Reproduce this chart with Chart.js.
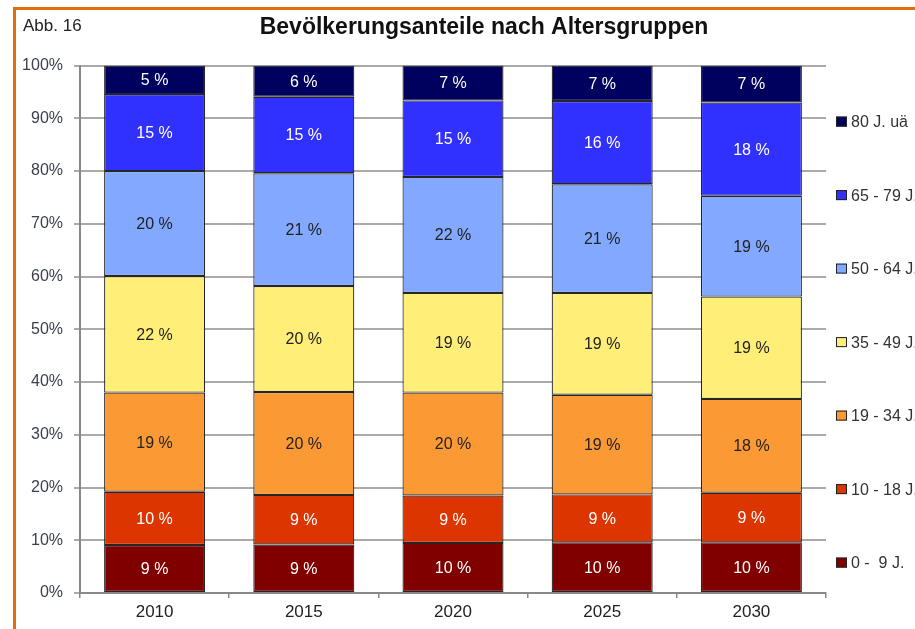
<!DOCTYPE html>
<html>
<head>
<meta charset="utf-8">
<script src="https://cdn.jsdelivr.net/npm/chart.js@4.4.0/dist/chart.umd.min.js"></script>
<style>
  html, body { margin: 0; padding: 0; background: #fff; overflow: hidden; width: 915px; height: 629px; }
  #frame { position: absolute; left: 13px; top: 7px; width: 980px; height: 660px;
           border-left: 3px solid #e46c0a; border-top: 3px solid #e46c0a; }
  #abb { position: absolute; left: 23px; top: 17px; font: 17px/17px "Liberation Sans", Arial, sans-serif; color: #222; }
  #wrap { position: absolute; left: 16px; top: 10px; width: 936px; height: 619px; }
</style>
</head>
<body>
<div id="frame"></div>
<div id="wrap"><canvas id="chart"></canvas></div>
<div id="abb">Abb. 16</div>
<script>
const years = ['2010', '2015', '2020', '2025', '2030'];
const groups = ['0 -  9 J.', '10 - 18 J.', '19 - 34 J.', '35 - 49 J.', '50 - 64 J.', '65 - 79 J.', '80 J. uä'];

// shares in percent, bottom to top
const age0to9   = [9.1, 9.2, 9.5, 9.6, 9.6];
const age10to18 = [10.1, 9.4, 9.0, 9.1, 9.4];
const age19to34 = [18.8, 19.5, 19.5, 18.9, 17.8];
const age35to49 = [22.1, 20.1, 18.9, 19.3, 19.4];
const age50to64 = [19.9, 21.4, 22.0, 20.6, 19.1];
const age65to79 = [14.6, 14.5, 14.5, 15.8, 17.7];
const age80plus = [5.4, 5.9, 6.6, 6.7, 7.0];

const yTicks = [0, 10, 20, 30, 40, 50, 60, 70, 80, 90, 100];

const series = [age0to9, age10to18, age19to34, age35to49, age50to64, age65to79, age80plus];
const fills = ['#800000', '#dd3500', '#fb9935', '#ffee77', '#82a8ff', '#3030ff', '#00005e'];
const textColors = ['#fff', '#fff', '#222', '#222', '#222', '#fff', '#fff'];

const FONT = '"Liberation Sans", Arial, sans-serif';

const datasets = series.map((d, i) => ({
    label: groups[i],
    data: d,
    backgroundColor: fills[i],
    borderColor: '#262626',
    borderWidth: 1.2,
    borderSkipped: false,
    categoryPercentage: 1,
    barPercentage: 0.677
}));

// value text in the middle of each segment
const segmentLabels = {
    id: 'segmentLabels',
    afterDatasetsDraw(chart) {
        const ctx = chart.ctx;
        ctx.save();
        ctx.font = '16px ' + FONT;
        ctx.textAlign = 'center';
        ctx.textBaseline = 'middle';
        chart.data.datasets.forEach((ds, i) => {
            const meta = chart.getDatasetMeta(i);
            ctx.fillStyle = textColors[i];
            meta.data.forEach((bar, j) => {
                const y = (bar.y + bar.base) / 2;
                ctx.fillText(Math.round(ds.data[j]) + ' %', bar.x, y + 1);
            });
        });
        ctx.restore();
    }
};

// legend on the right, top group first
const sideLegend = {
    id: 'sideLegend',
    afterDraw(chart) {
        const ctx = chart.ctx;
        const area = chart.chartArea;
        const n = chart.data.datasets.length;
        ctx.save();
        ctx.font = '16px ' + FONT;
        ctx.textBaseline = 'middle';
        for (let k = 0; k < n; k++) {
            const i = n - 1 - k;
            const y = area.top + 56 + k * 73.5;
            const x = area.right + 10;
            ctx.fillStyle = fills[i];
            ctx.fillRect(x, y - 5, 11, 10);
            ctx.strokeStyle = '#222';
            ctx.lineWidth = 1;
            ctx.strokeRect(x + 0.5, y - 4.5, 10, 9);
            ctx.fillStyle = '#333';
            ctx.fillText(chart.data.datasets[i].label, x + 15, y + 1);
        }
        ctx.restore();
    }
};

new Chart(document.getElementById('chart'), {
    type: 'bar',
    data: { labels: years, datasets: datasets },
    plugins: [segmentLabels, sideLegend],
    options: {
        responsive: true,
        maintainAspectRatio: false,
        animation: false,
        layout: { padding: 0 },
        plugins: {
            legend: { display: false },
            tooltip: { enabled: false },
            title: {
                display: true,
                text: 'Bevölkerungsanteile nach Altersgruppen',
                color: '#111',
                font: { family: FONT, size: 23, weight: 'bold' },
                padding: { top: 4, bottom: 24 }
            }
        },
        scales: {
            x: {
                stacked: true,
                grid: { drawOnChartArea: false, tickLength: 5, color: '#888', lineWidth: 1.5 },
                border: { color: '#888', width: 2 },
                ticks: { color: '#222', font: { family: FONT, size: 17 }, padding: 4 },
                afterFit(scale) { scale.height = 36; }
            },
            y: {
                stacked: true,
                min: 0,
                max: 100,
                afterBuildTicks(scale) { scale.ticks = yTicks.map(v => ({ value: v })); },
                grid: { color: '#aaa', lineWidth: 2, tickLength: 6 },
                border: { color: '#888', width: 2 },
                ticks: {
                    color: '#3a4050',
                    font: { family: FONT, size: 16 },
                    padding: 11,
                    callback: v => v + '%'
                },
                afterFit(scale) { scale.width = 64; }
            },
            // empty right-hand axis that keeps room for the legend
            side: {
                position: 'right',
                display: true,
                grid: { display: false },
                border: { display: false },
                ticks: { display: false },
                afterFit(scale) { scale.width = 126; }
            }
        }
    }
});
</script>
</body>
</html>
